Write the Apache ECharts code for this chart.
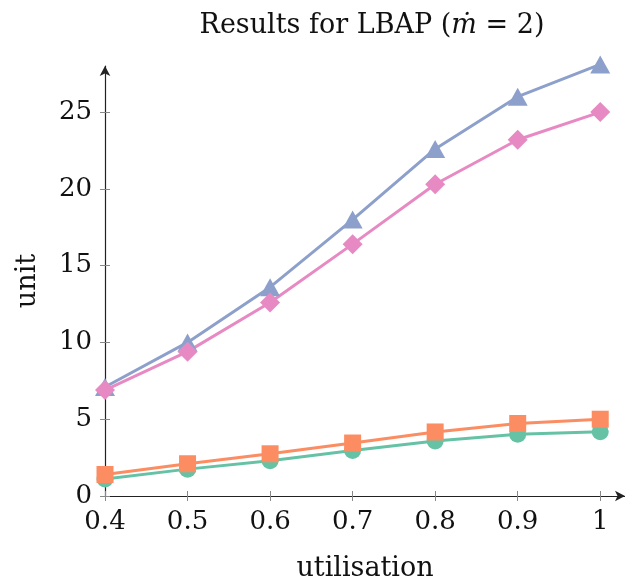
<!DOCTYPE html>
<html><head><meta charset="utf-8">
<script src="https://cdn.jsdelivr.net/npm/echarts@6/dist/echarts.min.js"></script>
<style>html,body{margin:0;padding:0;background:#fff}#c{width:625px;height:587px}</style>
</head><body><div id="c"></div>
<script>
const xValues = [0.4, 0.5, 0.6, 0.7, 0.8, 0.9, 1.0];
const xTicks = [0.4, 0.5, 0.6, 0.7, 0.8, 0.9, 1.0];
const yTicks = [0, 5, 10, 15, 20, 25];
const greenCircles = [1.1, 1.75, 2.3, 2.97, 3.58, 4.02, 4.19];
const orangeSquares = [1.4, 2.1, 2.75, 3.45, 4.17, 4.72, 5.0];
const blueTriangles = [7.1, 10.0, 13.6, 18.0, 22.6, 26.0, 28.1];
const pinkDiamonds = [6.9, 9.4, 12.6, 16.4, 20.3, 23.2, 25.0];

const FONT = 'DejaVu Serif';
const pair = arr => xValues.map((x, i) => [x, arr[i]]);
function mk(name, data, color, symbol, size) {
  return { name, type: 'line', xAxisIndex: 0, yAxisIndex: 0, data: pair(data), symbol, symbolSize: size,
    symbolKeepAspect: true,
    lineStyle: { color, width: 3 }, itemStyle: { color }, clip: false, animation: false };
}
function dots(data) {
  return { type: 'scatter', data: pair(data), symbol: 'circle', symbolSize: 3,
    itemStyle: { color: 'rgba(60,40,30,0.45)' }, clip: false, animation: false, silent: true };
}
const chart = echarts.init(document.getElementById('c'), null, { renderer: 'canvas' });
chart.setOption({
  animation: false,
  title: { text: 'Results for LBAP ({i|ṁ} = 2)', left: 367, top: 7, textAlign: 'center',
    textStyle: { fontFamily: FONT, fontSize: 27, fontWeight: 'normal', color: '#111',
      rich: { i: { fontFamily: FONT, fontSize: 27, fontStyle: 'italic', color: '#111' } } } },
  grid: { left: 105, right: 0, top: 66, bottom: 91, containLabel: false },
  xAxis: [{
    type: 'value', min: 0.4, max: 1.03, interval: 0.1,
    name: 'utilisation', nameLocation: 'middle', nameGap: 59,
    nameTextStyle: { fontFamily: FONT, fontSize: 27, color: '#111' },
    axisLine: { lineStyle: { color: '#222', width: 1.2 }, symbol: ['none', 'arrow'], symbolSize: [8, 10] },
    axisTick: { customValues: xTicks, length: 5, lineStyle: { color: '#888' } },
    axisLabel: { customValues: xTicks, fontFamily: FONT, fontSize: 26, color: '#111', margin: 13,
      formatter: v => (Math.abs(v - 1) < 1e-9 ? '1' : v.toFixed(1)) },
    splitLine: { show: false }
  }, {
    type: 'value', min: 0.4, max: 1.03, interval: 0.1, position: 'bottom',
    axisLine: { show: false },
    axisTick: { customValues: xTicks, inside: true, length: 5, lineStyle: { color: '#888' } },
    axisLabel: { show: false }, splitLine: { show: false }
  }],
  yAxis: [{
    type: 'value', min: 0, max: 28, interval: 5,
    name: 'unit', nameLocation: 'middle', nameGap: 64, nameRotate: 90,
    nameTextStyle: { fontFamily: FONT, fontSize: 27, color: '#111' },
    axisLine: { show: true, lineStyle: { color: '#222', width: 1.2 }, symbol: ['none', 'arrow'], symbolSize: [8, 10] },
    axisTick: { show: true, customValues: yTicks, length: 5, lineStyle: { color: '#888' } },
    axisLabel: { customValues: yTicks, fontFamily: FONT, fontSize: 26, color: '#111', margin: 13 },
    splitLine: { show: false }
  }, {
    type: 'value', min: 0, max: 28, interval: 5, position: 'left',
    axisLine: { show: false },
    axisTick: { show: true, customValues: yTicks, inside: true, length: 5, lineStyle: { color: '#888' } },
    axisLabel: { show: false }, splitLine: { show: false }
  }],
  series: [
    mk('green', greenCircles, '#66c2a5', 'circle', 17),
    dots(greenCircles),
    mk('orange', orangeSquares, '#fc8d62', 'rect', 17),
    dots(orangeSquares),
    mk('blue', blueTriangles, '#8da0cb', 'triangle', [20, 18]),
    mk('pink', pinkDiamonds, '#e78ac3', 'diamond', 20)
  ]
});
</script></body></html>
